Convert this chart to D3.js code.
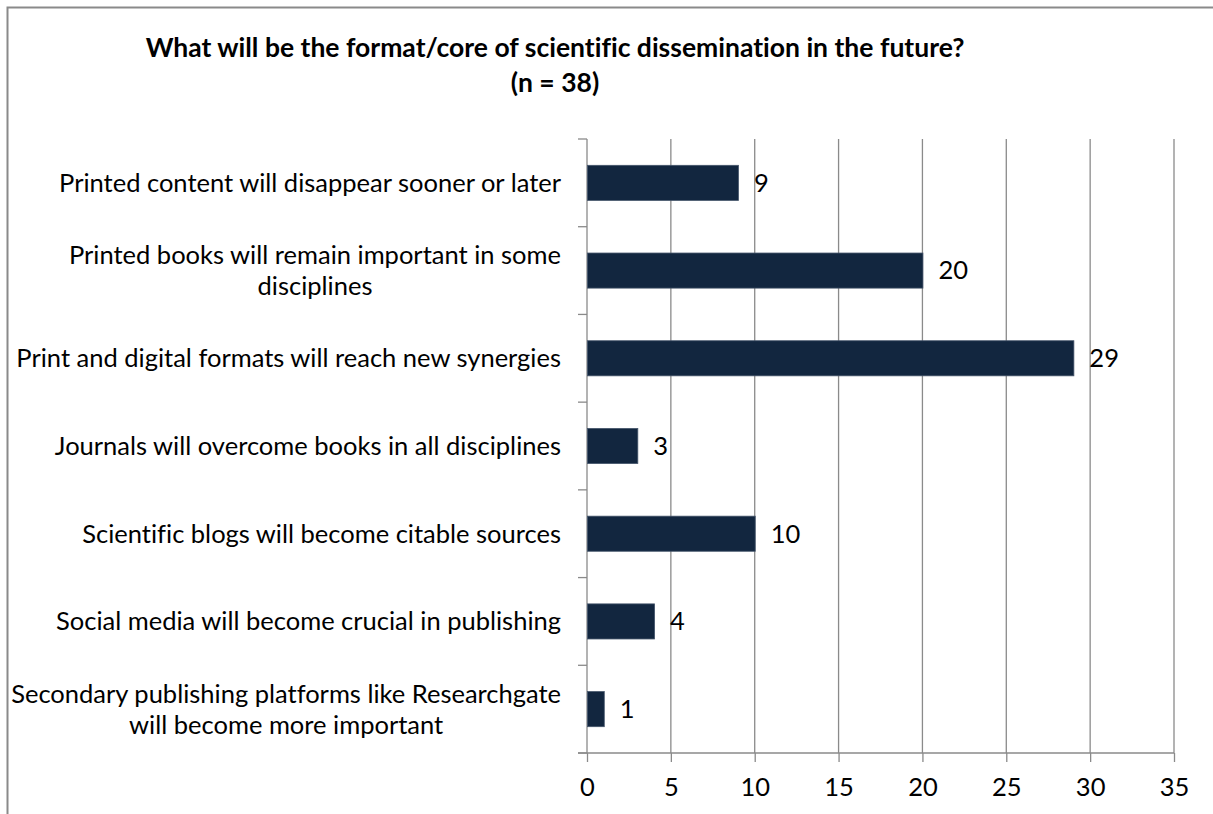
<!DOCTYPE html>
<html>
<head>
<meta charset="utf-8">
<script src="https://cdn.jsdelivr.net/npm/d3@7"></script>
<style>
  html, body { margin: 0; padding: 0; background: #fff; }
  svg { display: block; }
  text { font-family: Lato, "Open Sans", sans-serif; fill: #000; font-variant-ligatures: none; }
</style>
</head>
<body>
<svg id="chart" width="1213" height="814"></svg>
<script>
const titleLines = ["What will be the format/core of scientific dissemination in the future?", "(n = 38)"];
const categories = [
  ["Printed content will disappear sooner or later"],
  ["Printed books will remain important in some", "disciplines"],
  ["Print and digital formats will reach new synergies"],
  ["Journals will overcome books in all disciplines"],
  ["Scientific blogs will become citable sources"],
  ["Social media will become crucial in publishing"],
  ["Secondary publishing platforms like Researchgate", "will become more important"]
];
const values = [9, 20, 29, 3, 10, 4, 1];
const xTicks = [0, 5, 10, 15, 20, 25, 30, 35];

(function () {
const svg = d3.select("#chart");
const labelFont = 25.5, titleFont = 26.5;
const pLeft = 587, pRight = 1174, pTop = 139, pBottom = 753;
const grid = "#8a8a8a";

// outer border
svg.append("rect").attr("x", 7.5).attr("y", 7.5).attr("width", 1240).attr("height", 840)
  .attr("fill", "none").attr("stroke", "#8a8a8a").attr("stroke-width", 2);

// title
const title = svg.append("text").attr("text-anchor", "middle").attr("font-weight", "bold")
  .attr("font-size", titleFont);
titleLines.forEach((t, i) => {
  title.append("tspan").attr("x", 555).attr("y", 57 + i * 35).text(t);
});

const ids = categories.map((c, i) => i);
const x = d3.scaleLinear().domain([0, 35]).range([pLeft, pRight]);
const y = d3.scaleBand().domain(ids).range([pTop, pBottom]).paddingInner(0.6).paddingOuter(0.3);

// gridlines
svg.append("g").selectAll("line").data(xTicks.slice(1)).join("line")
  .attr("x1", d => x(d)).attr("x2", d => x(d)).attr("y1", pTop).attr("y2", pBottom)
  .attr("stroke", grid).attr("stroke-width", 1.3);

// x axis
const xAxis = svg.append("g").attr("transform", `translate(0,${pBottom})`)
  .call(d3.axisBottom(x).tickValues(xTicks).tickSize(9).tickPadding(16));
xAxis.select(".domain").remove();
xAxis.selectAll(".tick line").attr("stroke", grid).attr("stroke-width", 1.3);
xAxis.selectAll(".tick text").attr("font-size", labelFont).attr("font-family", "Lato").attr("fill", "#000");
svg.append("line").attr("x1", pLeft - 9).attr("x2", pRight).attr("y1", pBottom).attr("y2", pBottom)
  .attr("stroke", grid).attr("stroke-width", 1.3);

// y axis
const boundaries = d3.range(categories.length + 1).map(i => pTop + i * (pBottom - pTop) / categories.length);
svg.append("line").attr("x1", pLeft).attr("x2", pLeft).attr("y1", pTop).attr("y2", pBottom)
  .attr("stroke", grid).attr("stroke-width", 1.3);
svg.append("g").selectAll("line").data(boundaries).join("line")
  .attr("x1", pLeft - 9).attr("x2", pLeft).attr("y1", d => d).attr("y2", d => d)
  .attr("stroke", grid).attr("stroke-width", 1.3);

// bars
svg.append("g").selectAll("rect").data(values).join("rect")
  .attr("x", x(0) + 0.5).attr("y", (d, i) => y(i))
  .attr("width", d => x(d) - x(0)).attr("height", y.bandwidth())
  .attr("fill", "#12263f").attr("stroke", "#44546a").attr("stroke-width", 0.8);

// value labels
svg.append("g").selectAll("text").data(values).join("text")
  .attr("x", d => x(d) + 16).attr("y", (d, i) => y(i) + y.bandwidth() / 2)
  .attr("dy", "0.35em").attr("font-size", labelFont).text(d => d);

// category labels
const catG = svg.append("g");
categories.forEach((lines, i) => {
  const cy = y(i) + y.bandwidth() / 2;
  const t = catG.append("text").attr("font-size", labelFont).attr("text-anchor", "middle");
  const spans = lines.map((l) => t.append("tspan").text(l));
  const maxW = d3.max(spans, s => s.node().getComputedTextLength());
  const cx = 561 - maxW / 2;
  const lh = 31;
  spans.forEach((s, j) => {
    s.attr("x", cx).attr("y", cy + (j - (lines.length - 1) / 2) * lh).attr("dy", "0.35em");
  });
});
})();
</script>
</body>
</html>
